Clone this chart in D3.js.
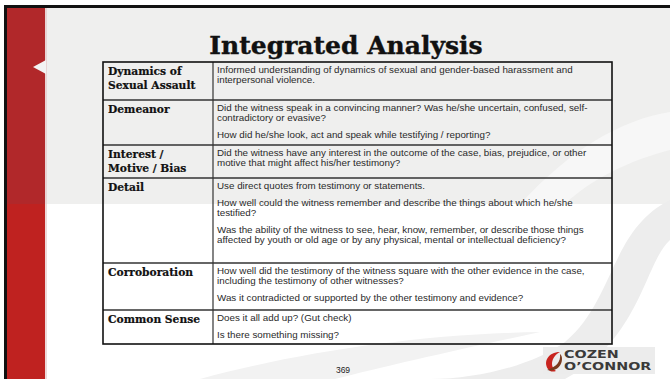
<!DOCTYPE html>
<html><head><meta charset="utf-8">
<script src="https://cdn.jsdelivr.net/npm/d3@7"></script>
<style>
html,body{margin:0;padding:0;background:#fff;}
svg{display:block;}
</style></head>
<body>
<script>
// ---------- DATA ----------
const title = "Integrated Analysis";
const categories = [
  ["Dynamics of", "Sexual Assault"],
  ["Demeanor"],
  ["Interest /", "Motive / Bias"],
  ["Detail"],
  ["Corroboration"],
  ["Common Sense"]
];
const descriptions = [
  [["Informed understanding of dynamics of sexual and gender-based harassment and", "interpersonal violence."]],
  [["Did the witness speak in a convincing manner? Was he/she uncertain, confused, self-", "contradictory or evasive?"],
   ["How did he/she look, act and speak while testifying / reporting?"]],
  [["Did the witness have any interest in the outcome of the case, bias, prejudice, or other", "motive that might affect his/her testimony?"]],
  [["Use direct quotes from testimony or statements."],
   ["How well could the witness remember and describe the things about which he/she", "testified?"],
   ["Was the ability of the witness to see, hear, know, remember, or describe those things", "affected by youth or old age or by any physical, mental or intellectual deficiency?"]],
  [["How well did the testimony of the witness square with the other evidence in the case,", "including the testimony of other witnesses?"],
   ["Was it contradicted or supported by the other testimony and evidence?"]],
  [["Does it all add up?  (Gut check)"],
   ["Is there something missing?"]]
];
const pageNumber = "369";
const logoLines = ["COZEN", "O\u2019CONNOR"];

// ---------- LAYOUT (sizes only) ----------
const W = 670, H = 379;
const rowHeights = [38, 45, 33, 85, 47, 34];
const tableTop = 62;
const colEdges = [103, 213, 612];

const svg = d3.select("body").append("svg").attr("width", W).attr("height", H);

// background
svg.append("rect").attr("width", W).attr("height", H).attr("fill", "#ffffff");
svg.append("rect").attr("x", 7).attr("y", 8).attr("width", W - 7).attr("height", 196).attr("fill", "#efefee");
// watermark swooshes
svg.append("path")
  .attr("d", "M520,204 C570,150 620,120 670,112 L670,150 C630,160 590,180 565,204 Z")
  .attr("fill", "#f7f7f7");
svg.append("path")
  .attr("d", "M670,200 C610,230 615,300 565,342 C535,364 480,379 430,379 L565,379 C640,340 645,262 670,240 Z")
  .attr("fill", "#ededed");
svg.append("path")
  .attr("d", "M200,379 C300,352 420,334 540,332 C470,347 385,366 335,379 Z")
  .attr("fill", "#f2f2f2");

// frame
svg.append("rect").attr("x", 4).attr("y", 5).attr("width", W - 4).attr("height", 3).attr("fill", "#111");
svg.append("rect").attr("x", 4).attr("y", 5).attr("width", 3).attr("height", H - 5).attr("fill", "#111");
// red band
svg.append("rect").attr("x", 7).attr("y", 8).attr("width", 38).attr("height", 196).attr("fill", "#b1282a");
svg.append("rect").attr("x", 7).attr("y", 204).attr("width", 38).attr("height", H - 204).attr("fill", "#bf2220");
svg.append("rect").attr("x", 45).attr("y", 8).attr("width", 2).attr("height", H - 8).attr("fill", "#e6c9c9").attr("opacity", 0.7);
svg.append("path").attr("d", "M46,60 L33,67 L46,74 Z").attr("fill", "#f3f3f3");

// title
svg.append("text")
  .attr("x", 346).attr("y", 54)
  .attr("text-anchor", "middle")
  .attr("font-family", "DejaVu Serif")
  .attr("font-weight", "bold")
  .attr("font-size", 25)
  .attr("stroke", "#111").attr("stroke-width", 0.4)
  .attr("fill", "#111")
  .text(title);

// table rows
const rowTops = [tableTop, ...d3.cumsum(rowHeights).map(v => tableTop + v)];
const tableBottom = rowTops[rowTops.length - 1];

const y = d3.scaleOrdinal().domain(d3.range(categories.length)).range(rowTops);

const g = svg.append("g");
// labels
categories.forEach((lines, i) => {
  lines.forEach((ln, j) => {
    g.append("text")
      .attr("x", colEdges[0] + 5)
      .attr("y", y(i) + 13 + j * 14)
      .attr("font-family", "DejaVu Serif")
      .attr("font-weight", "bold")
      .attr("font-size", 10.7)
      .attr("stroke", "#111").attr("stroke-width", 0.2)
      .attr("fill", "#111")
      .text(ln);
  });
});
// descriptions
descriptions.forEach((paras, i) => {
  let k = 0;
  paras.forEach((lines, p) => {
    lines.forEach((ln) => {
      g.append("text")
        .attr("x", colEdges[1] + 4)
        .attr("y", y(i) + 10.8 + k * 10 + p * 7)
        .attr("font-family", "Liberation Sans, Arial, sans-serif")
        .attr("font-size", 9.8)
        .attr("fill", "#2a2a2a")
        .text(ln);
      k++;
    });
  });
});

// grid lines
rowTops.slice(1, -1).forEach(t => {
  g.append("line").attr("x1", colEdges[0]).attr("x2", colEdges[2]).attr("y1", t).attr("y2", t)
    .attr("stroke", "#333").attr("stroke-width", 1.3);
});
g.append("line").attr("x1", colEdges[1]).attr("x2", colEdges[1]).attr("y1", tableTop).attr("y2", tableBottom)
  .attr("stroke", "#333").attr("stroke-width", 1.2);
g.append("rect").attr("x", colEdges[0]).attr("y", tableTop)
  .attr("width", colEdges[2] - colEdges[0]).attr("height", tableBottom - tableTop)
  .attr("fill", "none").attr("stroke", "#111").attr("stroke-width", 1.6);

// page number
svg.append("text").attr("x", 343).attr("y", 373).attr("text-anchor", "middle")
  .attr("font-family", "Liberation Sans, Arial, sans-serif").attr("font-size", 8.5).attr("fill", "#222")
  .text(pageNumber);

// logo
const logo = svg.append("g");
logo.append("rect").attr("x", 543).attr("y", 347).attr("width", 112).attr("height", 27).attr("fill", "#ececec");
logo.append("path").attr("d", "M560,352 C548,352 543,362 548,369 C550,372 553,372 556,371 C549,366 552,356 560,352 Z").attr("fill", "#c8241f");
logo.append("path").attr("d", "M547,370 C556,372 562,366 562,359 C562,356 561,355 560,354 C561,362 556,367 547,370 Z").attr("fill", "#7a3b1e");
logo.selectAll("text.logo").data(logoLines).enter().append("text")
  .attr("class", "logo")
  .attr("transform", (d, i) => `translate(564,${358 + i * 12}) scale(1.3,1)`)
  .attr("font-family", "DejaVu Sans, sans-serif").attr("font-weight", "bold")
  .attr("font-size", 11).attr("fill", "#3a3a3a")
  .text(d => d);
</script>
</body></html>
